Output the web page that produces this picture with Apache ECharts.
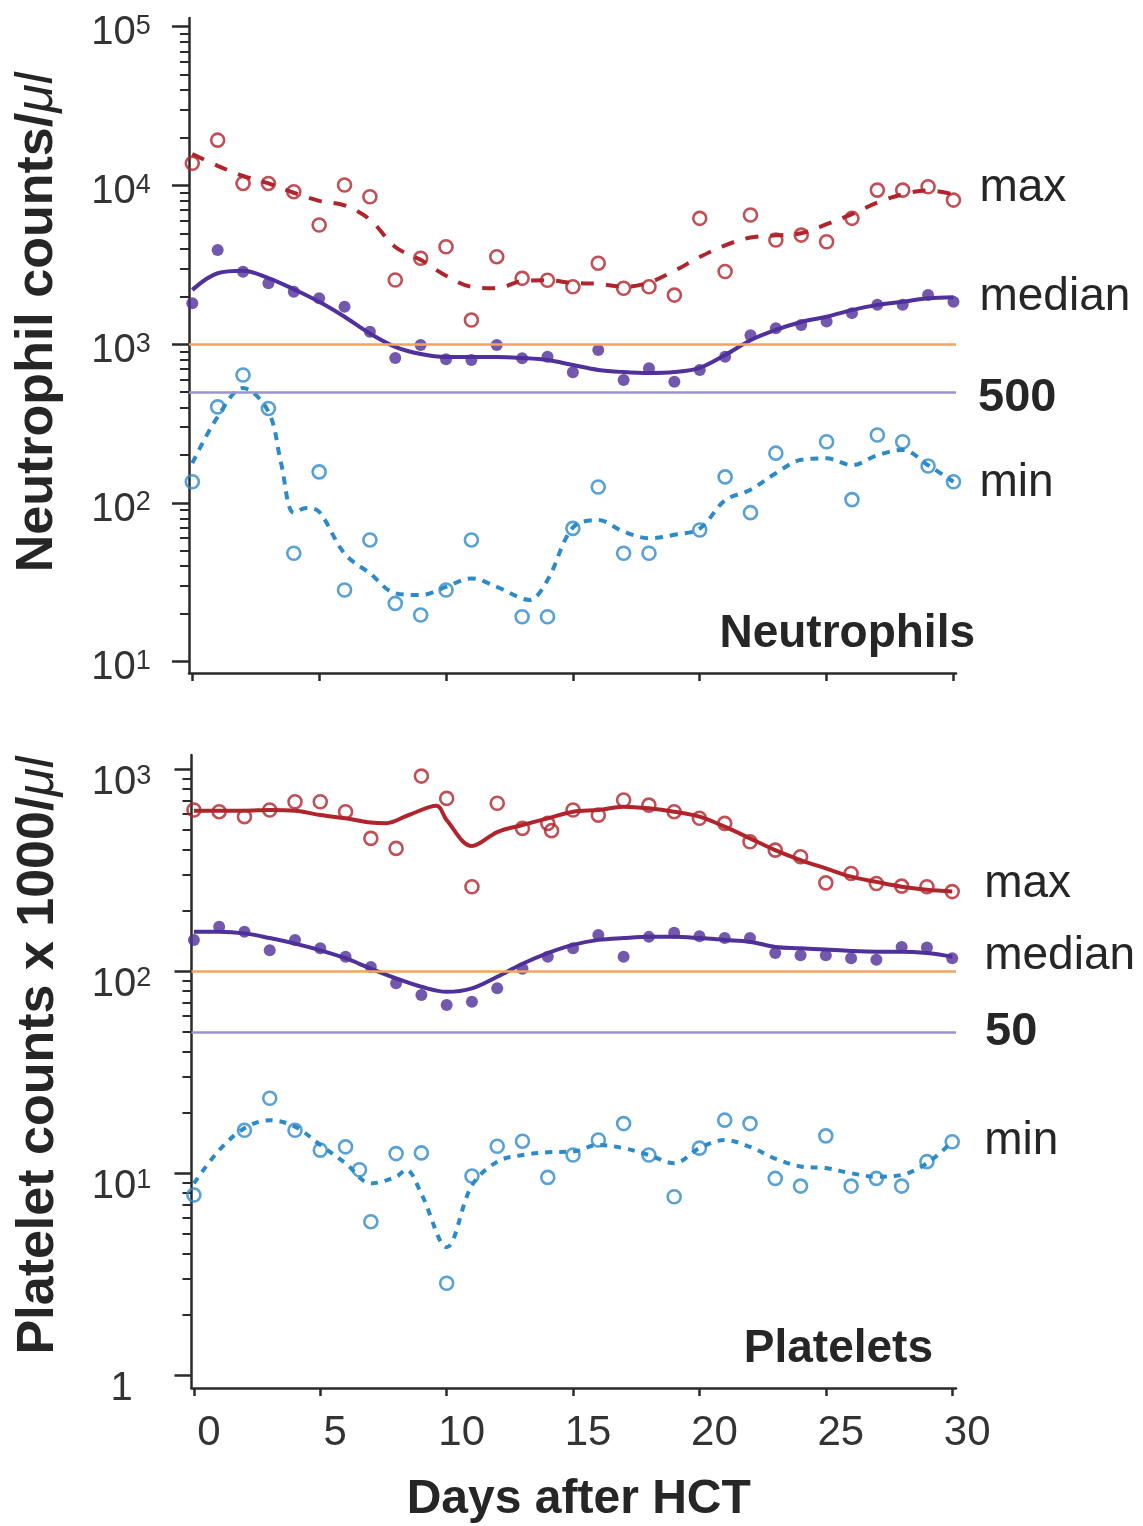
<!DOCTYPE html>
<html><head><meta charset="utf-8">
<script src="https://cdn.jsdelivr.net/npm/echarts@6/dist/echarts.min.js"></script>
<style>html,body{margin:0;padding:0;background:#fff}#c{width:1143px;height:1526px}</style>
</head><body><div id="c"></div>
<script>
// ---------- data ----------
const days = [0,1,2,3,4,5,6,7,8,9,10,11,12,13,14,15,16,17,18,19,20,21,22,23,24,25,26,27,28,29,30];
const xTickValues = [0,5,10,15,20,25,30];

// Neutrophils (counts / µl)
const nMaxPts = [13800,19300,10300,10300,9140,5640,10070,8490,2540,3480,4110,1420,3560,2600,2530,2300,3240,2250,2300,2040,6210,2870,6520,4530,4870,4420,6210,9350,9350,9820,8090];
const nMedPts = [1810,3920,2860,2420,2140,1950,1720,1200,820,988,803,795,988,815,834,665,920,596,705,580,689,834,1140,1260,1320,1390,1570,1770,1770,2040,1850];
const nMinPts = [136,403,640,394,48.2,157,28.3,58.5,23.3,19.7,28.3,58.5,null,19.2,19.2,69.2,126,48.2,48.2,null,67.6,146,86.9,206,null,243,105,268,243,171,136];
const nMaxFit = [15800,13300,11500,10300,9000,8000,7500,6100,4100,3400,2700,2300,2250,2500,2530,2430,2400,2300,2450,2900,3540,4200,4700,4850,5000,5700,6600,7800,8800,9300,8800];
const nMedFit = [2200,2800,2900,2610,2220,1850,1490,1170,963,867,830,830,830,818,795,740,689,668,659,668,710,855,1060,1230,1380,1490,1640,1770,1850,1950,1980];
const nMinFitDays = [0,1,2,3,3.5,4,4.5,5,6,7,8,9,10,11,12,13,13.3,14,15,16,17,18,19,20,21,22,23,24,25,26,27,28,29,30];
const nMinFit = [178,349,530,376,178,87,93,88,48,36,27,26.3,29.6,33.5,29.6,25,24.5,32.7,70,78,66,60,63,69,104,121,154,187,191,173,200,216,173,136];
const nRefLines = [1000, 500];
const nMajorTicks = [10,100,1000,10000,100000];

// Platelets (counts x 1000 / µl)
const pMaxPts = [629,617,583,629,691,691,617,455,406,926,718,262,679,510,540,629,593,705,665,617,572,540,438,398,369,274,305,272,264,262,248];
const pMaxExtraDays = [14.15];
const pMaxExtraPts = [497];
const pMedPts = [143,166,157,127,143,130,118,105,87.1,76.2,68.0,70.6,82.3,103,118,130,151,118,148,155,149,146,146,123,120,120,116,114,132,131,116];
const pMinPts = [7.79,null,16.3,23.5,16.3,13.0,13.5,5.75,12.5,12.6,2.85,9.68,13.6,14.4,9.53,12.3,14.6,17.6,12.3,7.64,13.3,18.3,17.6,9.42,8.63,15.3,8.63,9.42,8.63,11.4,14.3];
const pMinExtraDays = [6.55];
const pMinExtraPts = [10.4];
const pMaxFitDays = [0,1,2,3,4,5,6,7,7.6,8.5,9.6,10,11,12,13,14,15,16,17,18,19,20,21,22,23,24,25,26,27,28,29,30];
const pMaxFit = [624,624,624,629,624,594,572,545,541,594,660,560,417,489,530,572,617,629,653,641,617,583,520,455,398,355,323,294,277,262,253,248];
const pMedFit = [157,157,154,146,137,127,116,103,92.2,83.8,79.1,82.3,93.9,109,123,135,143,146,148,148,146,143,140,132,130,128,126,125,125,123,118];
const pMinFitDays = [0,1,2,3,4,5,6,7,8,8.4,9,10,11,12,13,14,15,16,17,18,19,20,21,22,23,24,25,26,27,28,29,30];
const pMinFit = [8.9,13.0,16.7,18.3,17.0,13.8,11.2,8.9,9.6,10.4,7.9,4.3,8.7,11.4,12.3,12.7,12.8,13.8,13.3,12.3,11.2,13.3,14.6,13.5,11.8,10.8,10.6,10.0,9.6,9.8,11.2,14.3];
const pRefLines = [100, 50];
const pMajorTicks = [1,10,100,1000];

// ---------- styling ----------
const FONT = '"Liberation Sans", Arial, Helvetica, sans-serif';
const RED = '#b0242c', PURPLE = '#50309a', BLUE = '#2d8ac9', ORANGE = '#f3a260', LAV = '#9a95cb';
const AX = '#2a2a2a', TXT = '#262626';

function minorsOf(majors) {
  const out = [];
  for (let i = 0; i < majors.length - 1; i++) for (let k = 2; k <= 9; k++) out.push(majors[i] * k);
  return out;
}
function pairs(xs, ys) {
  const out = [];
  for (let i = 0; i < xs.length; i++) if (ys[i] != null) out.push([xs[i], ys[i]]);
  return out;
}
function powLabel(v) {
  const e = Math.round(Math.log10(v));
  return e === 0 ? '{a|1}' : '{a|10}{s|' + e + '}';
}
const labelRich = {
  a: {fontSize: 40, lineHeight: 40, color: '#333', fontFamily: FONT},
  s: {fontSize: 27, lineHeight: 27, verticalAlign: 'top', color: '#333', fontFamily: FONT}
};

function yAxesFor(gridIndex, min, max, majors, labelPadTop, margin, name, nameGap, namePad) {
  return [
    {
      type: 'log', logBase: 10, gridIndex, min, max, position: 'left',
      axisLine: {show: true, onZero: false, lineStyle: {color: AX, width: 2.5}},
      axisTick: {show: true, customValues: majors, length: 17, lineStyle: {color: AX, width: 2.5}},
      axisLabel: {show: true, customValues: majors, formatter: powLabel, rich: labelRich, align: 'center',
                  margin, padding: [labelPadTop, 0, 0, 0]},
      splitLine: {show: false}, minorTick: {show: false},
      name, nameLocation: 'middle', nameGap, nameRotate: 90,
      nameTextStyle: {
        padding: [0, 0, 0, namePad],
        rich: {
          b: {fontSize: 52, fontWeight: 'bold', fontFamily: FONT, color: TXT},
          i: {fontSize: 52, fontStyle: 'italic', fontFamily: FONT, color: TXT}
        }
      }
    },
    {
      type: 'log', logBase: 10, gridIndex, min, max, position: 'left',
      axisLine: {show: false, onZero: false},
      axisTick: {show: true, customValues: minorsOf(majors), length: 9, lineStyle: {color: AX, width: 2}},
      axisLabel: {show: false}, splitLine: {show: false}
    }
  ];
}

function fitSeries(gi, xs, ys, color, dash, label, lblDist, lblOff, markLine) {
  const s = {
    type: 'line', xAxisIndex: gi, yAxisIndex: gi * 2, data: pairs(xs, ys),
    smooth: 0.35, symbol: 'none', showSymbol: false, silent: true, z: 2,
    lineStyle: {color, width: 4, type: dash},
    endLabel: {show: true, formatter: label, color: TXT, fontSize: 46, fontFamily: FONT,
               distance: lblDist, offset: lblOff}
  };
  if (markLine) s.markLine = markLine;
  return s;
}
function ptSeries(gi, xs, ys, color, filled) {
  return {
    type: 'scatter', xAxisIndex: gi, yAxisIndex: gi * 2, data: pairs(xs, ys), silent: true, z: 3,
    symbol: 'circle', symbolSize: filled ? 12 : 13,
    itemStyle: filled ? {color} : {color: 'rgba(255,255,255,0)', borderColor: color, borderWidth: 2.6}
  };
}
function refLines(vals, boldLabel, lblDist, lblOff) {
  return {
    silent: true, symbol: 'none', animation: false,
    data: [
      {yAxis: vals[0], lineStyle: {color: ORANGE, width: 2.5, type: 'solid'}, label: {show: false}},
      {yAxis: vals[1], lineStyle: {color: LAV, width: 2.5, type: 'solid'},
       label: {show: true, position: 'end', formatter: boldLabel, distance: lblDist, offset: lblOff,
               fontSize: 47, fontWeight: 'bold', color: TXT, fontFamily: FONT}}
    ]
  };
}

const option = {
  animation: false,
  backgroundColor: '#ffffff',
  title: [
    {text: 'Neutrophils', right: 168, top: 611, padding: 0,
     textStyle: {fontSize: 46, fontWeight: 'bold', color: TXT, fontFamily: FONT}},
    {text: 'Platelets', right: 210, top: 1326, padding: 0,
     textStyle: {fontSize: 46, fontWeight: 'bold', color: TXT, fontFamily: FONT}}
  ],
  grid: [
    {left: 189, top: 18, width: 767, height: 655},
    {left: 191.5, top: 755, width: 764.5, height: 633}
  ],
  xAxis: [
    {type: 'value', gridIndex: 0, min: -0.13, max: 30.1,
     axisLine: {show: true, onZero: false, lineStyle: {color: AX, width: 2.5}},
     axisTick: {show: true, customValues: xTickValues, length: 8, lineStyle: {color: AX, width: 2.5}},
     axisLabel: {show: false}, splitLine: {show: false}},
    {type: 'value', gridIndex: 1, min: -0.095, max: 30.15,
     axisLine: {show: true, onZero: false, lineStyle: {color: AX, width: 2.5}},
     axisTick: {show: true, customValues: xTickValues, length: 8, lineStyle: {color: AX, width: 2.5}},
     axisLabel: {show: true, customValues: xTickValues, fontSize: 42, color: '#333', fontFamily: FONT,
                 margin: 24, padding: [0, 0, 0, 30]},
     splitLine: {show: false},
     name: 'Days after HCT', nameLocation: 'middle', nameGap: 88,
     nameTextStyle: {fontSize: 48, fontWeight: 'bold', color: TXT, fontFamily: FONT, padding: [0, 0, 0, 10]}}
  ],
  yAxis: [].concat(
    yAxesFor(0, Math.pow(10, 0.929), Math.pow(10, 5.055), nMajorTicks, 13, 68,
             '{b|Neutrophil counts/}{i|μl}', 125, 46),
    yAxesFor(1, Math.pow(10, -0.064), Math.pow(10, 3.071), pMajorTicks, 28, 70,
             '{b|Platelet counts x 1000/}{i|μl}', 127, 32)
  ),
  series: [
    fitSeries(0, days, nMaxFit, RED, [13, 12], 'max', 26, [0, -6], refLines(nRefLines, '500', 22, [0, 6])),
    fitSeries(0, days, nMedFit, PURPLE, 'solid', 'median', 26, [0, 0]),
    fitSeries(0, nMinFitDays, nMinFit, BLUE, [8, 7], 'min', 26, [0, 2]),
    ptSeries(0, days, nMaxPts, RED, false),
    ptSeries(0, days, nMedPts, PURPLE, true),
    ptSeries(0, days, nMinPts, BLUE, false),

    fitSeries(1, pMaxFitDays, pMaxFit, RED, 'solid', 'max', 32, [0, -7], refLines(pRefLines, '50', 29, [0, 0])),
    fitSeries(1, days, pMedFit, PURPLE, 'solid', 'median', 32, [0, 0]),
    fitSeries(1, pMinFitDays, pMinFit, BLUE, [7, 7], 'min', 32, [0, 0]),
    ptSeries(1, days.concat(pMaxExtraDays), pMaxPts.concat(pMaxExtraPts), RED, false),
    ptSeries(1, days, pMedPts, PURPLE, true),
    ptSeries(1, days.concat(pMinExtraDays), pMinPts.concat(pMinExtraPts), BLUE, false)
  ]
};

const chart = echarts.init(document.getElementById('c'), null, {renderer: 'canvas'});
chart.setOption(option);
</script>
</body></html>
